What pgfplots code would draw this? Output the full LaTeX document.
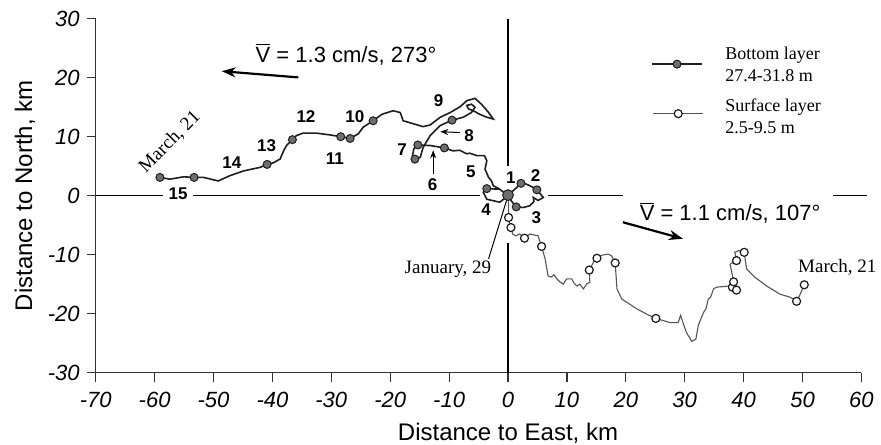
\documentclass[border=0pt]{standalone}
\usepackage{pgfplots}
\pgfplotsset{compat=1.18}
\usepackage{fontspec}
\setmainfont{Liberation Sans}
\newfontfamily\timesfont{Liberation Serif}
\newcommand\legfont{\timesfont\fontsize{9}{11}\selectfont}
\usetikzlibrary{arrows.meta}
\definecolor{botline}{HTML}{1E1E1E}
\definecolor{botfill}{HTML}{6E6E6E}
\definecolor{surfline}{HTML}{555555}
\begin{document}
\begin{tikzpicture}
\useasboundingbox (0,0) rectangle (440.5pt,222pt);
\begin{axis}[
  at={(47.85pt,35.65pt)}, anchor=south west,
  x=2.945pt, y=2.95pt,
  xmin=-70, xmax=60, ymin=-30, ymax=30,
  axis x line*=bottom, axis y line*=left,
  axis line style={line width=0.6pt, color=black!80},
  xtick={-70,-60,...,60}, ytick={-30,-20,...,30},
  tick align=outside, major tick length=4.5pt,
  tick style={line width=0.6pt, color=black!80},
  /pgf/number format/assume math mode=true,
  ticklabel style={font=\itshape\fontsize{11}{13}\selectfont},
  xticklabel style={yshift=-1.5pt},
  clip=false,
]
% zero lines with gaps
\draw[black, line width=0.6pt] (axis cs:-70,0) -- (axis cs:-58.6,0);
\draw[black, line width=0.6pt] (axis cs:-53.5,0) -- (axis cs:-4.8,0);
\draw[black, line width=0.6pt] (axis cs:6.8,0) -- (axis cs:19.6,0);
\draw[black, line width=0.6pt] (axis cs:55.2,0) -- (axis cs:61,0);
\draw[black, line width=0.6pt] (axis cs:0,30) -- (axis cs:0,5.1);
\draw[black, line width=0.6pt] (axis cs:0,-8.1) -- (axis cs:0,-30);

% surface layer track
\addplot[surfline, line width=0.55pt] coordinates {
(0,0) (0.1,-1.5) (0.1,-3.7) (0.2,-4.5) (0.5,-5.4) (0.8,-6.5) (1.3,-6.8) (2.0,-6.5) (2.8,-7.2)
(3.7,-6.5) (5.1,-6.8) (5.7,-8.6) (6.3,-10.7) (6.8,-13.6) (7.4,-13.8) (7.8,-13.4) (8.3,-14.1)
(8.8,-14.6) (9.4,-15.0) (9.8,-14.3) (10.0,-14.1) (10.8,-14.1) (11.2,-14.8) (11.7,-15.3)
(12.2,-15.0) (12.8,-15.8) (13.4,-14.9) (13.9,-14.7) (13.8,-12.6) (14.5,-11.3) (15.1,-10.6)
(15.9,-10.1) (17.0,-9.9) (17.6,-10.2) (18.2,-11.4) (18.5,-15.8) (19.3,-17.5) (21.9,-19.2)
(23.8,-20.2) (25.1,-20.8) (27.5,-21.5) (28.9,-21.5) (29.3,-20.3) (29.7,-21.5) (30.3,-23.2)
(31.2,-24.7) (31.9,-24.3) (32.3,-22.0) (33.2,-19.8) (33.6,-19.2) (34.0,-17.5) (34.4,-17.2)
(34.9,-15.8) (35.4,-15.5) (36.6,-15.4) (37.5,-15.3) (38.1,-15.5) (38.8,-16.0) (38.3,-14.6)
(38.0,-13.0) (37.7,-11.6) (38.8,-11.0) (38.5,-9.6) (39.2,-9.3) (40.1,-9.6) (40.5,-12.4)
(41.9,-13.8) (43.9,-15.3) (46.2,-16.7) (47.9,-17.2) (49.0,-17.9) (49.6,-16.7) (50.3,-15.1)
};
\addplot[only marks, mark=*, mark size=2pt, mark options={fill=white, draw=black!90, line width=0.6pt}] coordinates {
(0.1,-3.7) (0.5,-5.4) (2.8,-7.2) (5.7,-8.6) (13.8,-12.6) (15.1,-10.6) (18.2,-11.4) (25.1,-20.8)
(38.1,-15.5) (38.8,-16.0) (38.3,-14.6) (38.8,-11.0) (40.1,-9.6) (49.0,-17.9) (50.3,-15.1)
};

% bottom layer track
\addplot[botline, line width=0.8pt] coordinates {
(0,0) (0.8,0.8) (1.5,1.4) (2.2,2.1) (3.0,2.0) (3.7,1.7) (4.9,1.0) (5.5,0.3) (6.0,-0.3)
(5.1,-0.8) (4.3,-0.3) (4.4,-1.0) (3.7,-1.7) (2.6,-2.0) (1.4,-1.9) (0.5,-0.8) (0,0)
(-1.4,1.1) (-3.6,1.2) (-4.2,0.6) (-3.6,-0.6) (-1.4,-1.1) (0,0) (-1.4,1.1) (-2.5,1.7)
(-2.8,2.5) (-3.3,3.1) (-3.9,4.5) (-3.6,5.9) (-4.0,6.8) (-5.3,6.8) (-6.5,7.2) (-7.0,7.1)
(-8.2,7.7) (-9.3,7.6) (-10.8,8.1) (-13.2,8.5) (-15.3,8.6) (-16.0,7.9) (-16.2,6.8) (-15.8,6.2)
(-14.9,6.5) (-14.4,8.2) (-13.2,10.2) (-11.5,11.9) (-9.5,12.8) (-7.6,13.3) (-6.2,14.1)
(-5.6,15.0) (-6.2,15.5) (-7.0,15.3) (-6.7,14.7) (-5.9,14.4) (-4.8,13.8) (-3.6,13.3)
(-2.5,13.0) (-3.3,14.1) (-4.5,15.5) (-5.6,16.5) (-7.0,16.1) (-8.1,15.1) (-9.8,14.1)
(-11.5,13.3) (-13.2,12.0) (-14.4,11.7) (-16.1,12.2) (-17.8,12.7) (-18.3,14.1) (-19.5,14.4)
(-21.4,13.8) (-22.9,12.7) (-24.6,11.6) (-25.4,10.5) (-26.8,9.7) (-28.4,10.0) (-30.2,10.3)
(-32.5,10.6) (-34.8,10.6) (-35.9,10.2) (-36.6,9.5) (-37.6,8.5) (-38.1,7.6) (-38.7,6.2)
(-39.8,5.6) (-40.9,5.3) (-42.1,4.8) (-44.9,4.2) (-47.2,3.4) (-49.2,2.5) (-51.7,3.1)
(-53.3,3.1) (-55.1,3.2) (-57.4,2.8) (-59.1,3.1)
};
\addplot[only marks, mark=*, mark size=2pt, mark options={fill=botfill, draw=botline, line width=0.5pt}] coordinates {
(2.2,2.1) (4.9,1.0) (1.4,-1.9) (-3.6,1.2) (-10.8,8.1) (-15.3,8.6) (-15.8,6.2) (-9.5,12.8)
(-22.9,12.7) (-26.8,9.7) (-28.4,10.0) (-36.6,9.5) (-40.9,5.3) (-53.3,3.1) (-59.1,3.1)
};
\addplot[only marks, mark=*, mark size=2.7pt, mark options={fill=botfill, draw=botline, line width=0.5pt}] coordinates {(0,0.1)};

% legend (keys drawn in data coordinates)
\addplot[botline, line width=0.8pt] coordinates {(24.45,22.3) (32.9,22.3)};
\addplot[only marks, mark=*, mark size=2pt, mark options={fill=botfill, draw=botline, line width=0.5pt}] coordinates {(28.7,22.3)};
\addplot[surfline, line width=0.55pt] coordinates {(24.6,13.9) (33.1,13.9)};
\addplot[only marks, mark=*, mark size=2pt, mark options={fill=white, draw=black!90, line width=0.6pt}] coordinates {(28.9,13.9)};
\node[anchor=west, align=left, font=\legfont, inner sep=0pt] at (axis cs:36.85,22.2) {Bottom layer\\27.4-31.8 m};
\node[anchor=west, align=left, font=\legfont, inner sep=0pt] at (axis cs:36.85,13.4) {Surface layer\\2.5-9.5 m};

% numbers
\begin{scope}[every node/.style={font=\bfseries\fontsize{8.5}{10}\selectfont}]
\node at (axis cs:0.5,3.0) {1};
\node at (axis cs:4.7,3.4) {2};
\node at (axis cs:4.8,-3.8) {3};
\node at (axis cs:-3.7,-2.3) {4};
\node at (axis cs:-6.3,4.1) {5};
\node at (axis cs:-12.8,1.9) {6};
\node at (axis cs:-18.0,7.8) {7};
\node at (axis cs:-6.6,10.2) {8};
\node at (axis cs:-11.8,16.1) {9};
\node at (axis cs:-26.0,13.4) {10};
\node at (axis cs:-29.4,6.3) {11};
\node at (axis cs:-34.3,13.4) {12};
\node at (axis cs:-41.0,8.5) {13};
\node at (axis cs:-46.9,5.6) {14};
\node at (axis cs:-56.0,0.3) {15};
\end{scope}
\draw[-{Stealth[length=4pt,width=3pt]}, line width=0.5pt] (axis cs:-12.7,3.7) -- (axis cs:-12.7,7.7);
\draw[-{Stealth[length=4pt,width=3pt]}, line width=0.5pt] (axis cs:-8.15,10.7) -- (axis cs:-11.5,10.85);
\draw[line width=0.5pt] (axis cs:0,0) -- (axis cs:-3.3,-10.7);

% dates
\node[font=\timesfont\fontsize{9.5}{11}\selectfont, rotate=45] at (axis cs:-57.4,9.1) {March, 21};
\node[font=\timesfont\fontsize{9.5}{11}\selectfont] at (axis cs:-10.2,-12.4) {January, 29};
\node[font=\timesfont\fontsize{9.5}{11}\selectfont] at (axis cs:55.9,-12.2) {March, 21};

% mean velocity
\node[font=\fontsize{11}{13}\selectfont] at (axis cs:-27.5,24.0) {\ensuremath{\overline{\mbox{V}}} = 1.3 cm/s, 273°};
\draw[-{Stealth[length=7pt,width=5pt]}, line width=1.1pt] (axis cs:-35.6,20.05) -- (axis cs:-48.6,21.1);
\node[font=\fontsize{11}{13}\selectfont] at (axis cs:37.7,-2.9) {\ensuremath{\overline{\mbox{V}}} = 1.1 cm/s, 107°};
\draw[-{Stealth[length=7pt,width=5pt]}, line width=1.1pt] (axis cs:19.5,-4.5) -- (axis cs:29.7,-7.3);

% axis labels
\node[font=\fontsize{12}{14}\selectfont] at (axis cs:0,-40.2) {Distance to East, km};
\node[font=\fontsize{12}{14}\selectfont, rotate=90] at (axis cs:-82,0) {Distance to North, km};
\end{axis}
\end{tikzpicture}
\end{document}
